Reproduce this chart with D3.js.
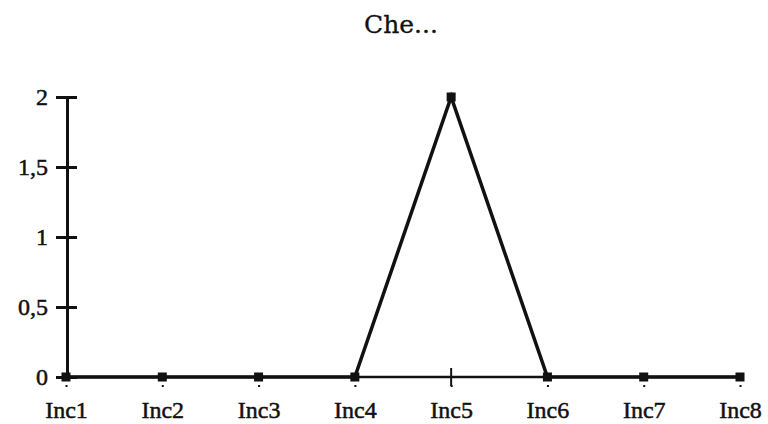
<!DOCTYPE html>
<html>
<head>
<meta charset="utf-8">
<script src="https://cdn.jsdelivr.net/npm/d3@7"></script>
<style>
  body { margin: 0; background: #fff; }
  svg text { font-family: "Liberation Serif", serif; fill: #111; }
</style>
</head>
<body>
<div id="chart"></div>
<script>
const width = 768
const height = 424
const margin = { top: 97, bottom: 47, left: 66, right: 28 }

const title = "Che..."
const categories = ["Inc1", "Inc2", "Inc3", "Inc4", "Inc5", "Inc6", "Inc7", "Inc8"]
const values = [0, 0, 0, 0, 2, 0, 0, 0]
const yTicks = [0, 0.5, 1, 1.5, 2]

const serif = "'Liberation Serif', serif"

const svg = d3.select("div#chart").append("svg").attr("width", width).attr("height", height)

const x = d3.scalePoint().domain(categories).range([margin.left, width - margin.right])
const y = d3.scaleLinear().domain([0, 2]).range([height - margin.bottom, margin.top])

svg.append("text")
    .attr("x", 401).attr("y", 33)
    .attr("text-anchor", "middle")
    .style("font-family", "'DejaVu Serif', serif")
    .style("font-size", "25px")
    .style("stroke", "#111").style("stroke-width", 0.3)
    .text(title)

// y axis
const yAxis = d3.axisLeft(y).tickValues(yTicks).tickSize(0).tickPadding(19)
    .tickFormat(d => String(d).replace(".", ","))
const yG = svg.append("g").attr("transform", `translate(${margin.left + 1},0)`).call(yAxis)
    .attr("font-family", serif)
yG.select(".domain").attr("stroke", "#111").attr("stroke-width", 3)
yG.selectAll(".tick text").style("font-size", "24px").style("font-family", serif)
    .style("stroke", "#111").style("stroke-width", 0.5)
yG.selectAll(".tick").append("line")
    .attr("x1", -11).attr("x2", 10)
    .attr("stroke", "#111").attr("stroke-width", 3)

// x axis
const xAxis = d3.axisBottom(x).tickSize(2).tickPadding(14)
const xG = svg.append("g").attr("transform", `translate(0,${y(0) + 8})`).call(xAxis)
    .attr("font-family", serif)
xG.select(".domain").remove()
xG.selectAll(".tick line").attr("stroke", "#111").attr("stroke-width", 2)
xG.selectAll(".tick text").style("font-size", "24px").style("font-family", serif)
    .style("stroke", "#111").style("stroke-width", 0.5)

svg.append("line")
    .attr("x1", x("Inc1")).attr("x2", x("Inc8"))
    .attr("y1", y(0)).attr("y2", y(0))
    .attr("stroke", "#111").attr("stroke-width", 2.5)
svg.append("line")
    .attr("x1", x("Inc5")).attr("x2", x("Inc5"))
    .attr("y1", y(0) - 9).attr("y2", y(0) + 9)
    .attr("stroke", "#111").attr("stroke-width", 2)

// series
const line = d3.line()
    .x((d, i) => x(categories[i]))
    .y(d => y(d))
svg.append("path")
    .datum(values)
    .attr("d", line)
    .attr("fill", "none")
    .attr("stroke", "#111")
    .attr("stroke-width", 3.5)

svg.selectAll("rect.marker").data(values).enter()
    .append("rect")
    .attr("class", "marker")
    .attr("x", (d, i) => x(categories[i]) - 4.5)
    .attr("y", d => y(d) - 4.5)
    .attr("width", 9).attr("height", 9)
    .attr("fill", "#111")
</script>
</body>
</html>
